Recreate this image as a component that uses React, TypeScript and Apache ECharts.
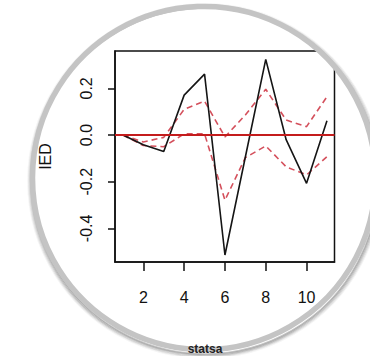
import React, { useEffect, useRef } from "react";
import * as echarts from "echarts";

const steps = [1, 2, 3, 4, 5, 6, 7, 8, 9, 10, 11];
const irf = [0, -0.042, -0.071, 0.171, 0.261, -0.514, -0.094, 0.324, -0.02, -0.207, 0.061];
const upperBand = [0, -0.03, -0.01, 0.11, 0.145, -0.008, 0.086, 0.196, 0.064, 0.036, 0.164];
const lowerBand = [0, -0.045, -0.05, 0.005, 0.005, -0.279, -0.097, -0.047, -0.136, -0.171, -0.093];
const xTicks = [2, 4, 6, 8, 10];
const yTicks = [-0.4, -0.2, 0, 0.2];
const yName = "IED";
const footText = "statsa";

const FONT = "'Liberation Sans', Arial, Helvetica, sans-serif";

export default function App() {
  const ref = useRef<HTMLDivElement>(null);
  useEffect(() => {
    if (!ref.current) return;
    const chart = echarts.init(ref.current, null, { renderer: "svg" });
    const pairs = (ys: number[]) => steps.map((s, i) => [s, ys[i]]);
    const cx = 204;
    const cy = 178;
    const R = 171.5;
    const shadow: any[] = [];
    const alphas = [0.3, 0.24, 0.17, 0.1, 0.05];
    alphas.forEach((a, i) => {
      shadow.push({
        type: "circle",
        z: 101,
        silent: true,
        shape: { cx: cx + 1, cy: cy + 3, r: R + 1.5 + i },
        style: { fill: "none", stroke: `rgba(60,60,60,${a})`, lineWidth: 1.6 },
      });
    });
    const axisCommon = {
      axisLine: { show: true, onZero: false, lineStyle: { color: "#111", width: 1.5 } },
      splitLine: { show: false },
    };
    chart.setOption({
      animation: false,
      backgroundColor: "#ffffff",
      textStyle: { fontFamily: FONT },
      grid: {
        left: 115,
        right: 35.5,
        top: 51,
        bottom: 94,
        show: true,
        borderColor: "#111",
        borderWidth: 1.5,
        backgroundColor: "transparent",
      },
      xAxis: {
        type: "value",
        min: 0.61,
        max: 11.37,
        ...axisCommon,
        axisTick: {
          show: true,
          inside: false,
          length: 9,
          lineStyle: { color: "#111", width: 1.5 },
          customValues: xTicks,
        },
        axisLabel: {
          customValues: xTicks,
          margin: 27,
          fontSize: 16,
          color: "#111",
          fontFamily: FONT,
        },
      },
      yAxis: {
        type: "value",
        min: -0.544,
        max: 0.36,
        name: yName,
        nameLocation: "middle",
        nameGap: 62,
        nameTextStyle: { fontSize: 16, color: "#111", fontFamily: FONT },
        ...axisCommon,
        axisTick: {
          show: true,
          inside: false,
          length: 7,
          lineStyle: { color: "#111", width: 1.5 },
          customValues: yTicks,
        },
        axisLabel: {
          customValues: yTicks,
          rotate: 90,
          margin: 21,
          fontSize: 16,
          color: "#111",
          fontFamily: FONT,
          formatter: (v: number) => v.toFixed(1),
        },
      },
      series: [
        {
          type: "line",
          data: pairs(upperBand),
          showSymbol: false,
          lineStyle: { color: "#d4505c", width: 1.6, type: [6, 4] },
          z: 3,
        },
        {
          type: "line",
          data: pairs(lowerBand),
          showSymbol: false,
          lineStyle: { color: "#d4505c", width: 1.6, type: [6, 4] },
          z: 3,
        },
        {
          type: "line",
          data: pairs(irf),
          showSymbol: false,
          lineStyle: { color: "#151515", width: 1.6 },
          z: 4,
          markLine: {
            silent: true,
            symbol: "none",
            label: { show: false },
            lineStyle: { color: "#c41c1c", width: 2, type: "solid" },
            data: [{ yAxis: 0 }],
          },
        },
      ],
      graphic: [
        {
          type: "ring",
          z: 100,
          silent: true,
          shape: { cx, cy, r: 700, r0: R },
          style: { fill: "#ffffff" },
        },
        ...shadow,
        {
          type: "circle",
          z: 102,
          silent: true,
          shape: { cx, cy, r: R },
          style: { fill: "none", stroke: "#c4c4c4", lineWidth: 5.5 },
        },
        {
          type: "text",
          z: 103,
          silent: true,
          x: 205,
          y: 343,
          style: {
            text: footText,
            fontSize: 12,
            fontWeight: "bold",
            fill: "#222",
            align: "center",
            verticalAlign: "top",
            fontFamily: FONT,
          },
        },
      ],
    });
    return () => chart.dispose();
  }, []);
  return (
    <div
      ref={ref}
      style={{ position: "fixed", left: 0, top: 0, width: 370, height: 356 }}
    />
  );
}
